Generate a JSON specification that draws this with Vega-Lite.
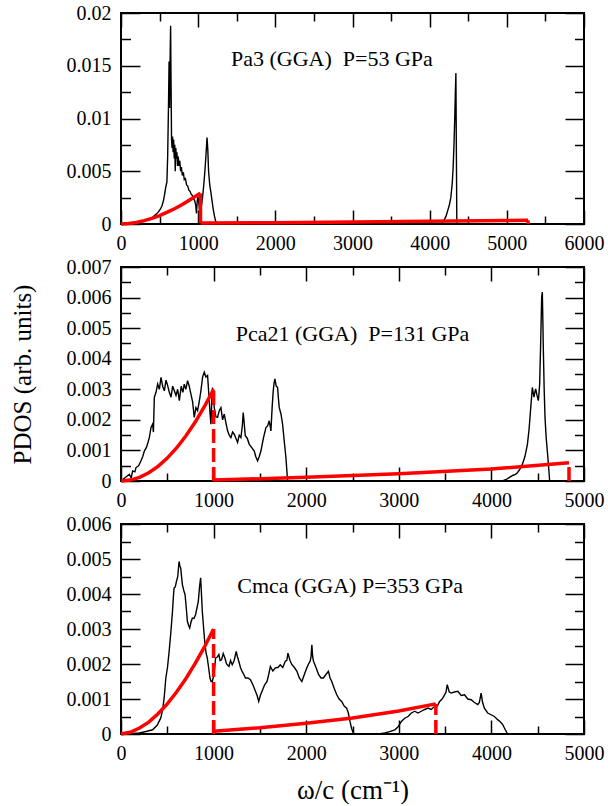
{
"$schema": "https://vega.github.io/schema/vega-lite/v6.json",
"autosize": {"type": "pad"},
"padding": {"left": 9, "top": 2, "right": 0, "bottom": 0},
"bounds": "flush",
"spacing": 43,
"config": {
  "font": "Liberation Serif",
  "view": {"stroke": "black", "strokeWidth": 2},
  "axis": {"domain": false, "grid": false, "tickColor": "black", "tickWidth": 1.5, "labelFont": "Liberation Serif", "labelFontSize": 20, "labelColor": "black", "titleFont": "Liberation Serif", "titleFontWeight": "normal", "titleColor": "black", "labelOverlap": false, "labelFlush": false, "labelBound": false},
  "axisX": {"labelPadding": 23},
  "axisY": {"labelPadding": 29},
  "text": {"font": "Liberation Serif"}
},
"datasets": {
  "pa3_pdos": [
    {"x":0,"y":0},{"x":100,"y":0.00003},{"x":200,"y":0.0001},{"x":260,"y":0.0002},{"x":300,"y":0.00025},{"x":340,"y":0.0004},{"x":380,"y":0.0005},{"x":420,"y":0.0007},{"x":450,"y":0.0009},{"x":480,"y":0.0011},{"x":510,"y":0.0014},{"x":530,"y":0.0017},{"x":550,"y":0.0022},{"x":565,"y":0.0028},{"x":580,"y":0.0035},{"x":595,"y":0.004},{"x":605,"y":0.0065},{"x":615,"y":0.011},{"x":623,"y":0.0154},{"x":630,"y":0.011},{"x":637,"y":0.016},{"x":643,"y":0.0188},{"x":648,"y":0.014},{"x":655,"y":0.008},{"x":662,"y":0.0072},{"x":668,"y":0.0083},{"x":675,"y":0.0068},{"x":682,"y":0.008},{"x":690,"y":0.0062},{"x":697,"y":0.0075},{"x":703,"y":0.005},{"x":710,"y":0.0072},{"x":718,"y":0.0062},{"x":725,"y":0.0068},{"x":733,"y":0.0055},{"x":742,"y":0.0064},{"x":752,"y":0.0055},{"x":762,"y":0.006},{"x":772,"y":0.005},{"x":782,"y":0.0054},{"x":795,"y":0.0046},{"x":808,"y":0.0049},{"x":820,"y":0.0042},{"x":835,"y":0.0043},{"x":850,"y":0.0037},{"x":865,"y":0.0036},{"x":880,"y":0.0032},{"x":895,"y":0.0031},{"x":910,"y":0.0028},{"x":925,"y":0.0027},{"x":940,"y":0.0024},{"x":955,"y":0.0022},{"x":968,"y":0.0018},{"x":978,"y":0.001},{"x":988,"y":0.0022},{"x":998,"y":0.0026},{"x":1008,"y":0.002},{"x":1018,"y":0.0013},{"x":1028,"y":0.0011},{"x":1040,"y":0.0016},{"x":1055,"y":0.0024},{"x":1070,"y":0.0035},{"x":1085,"y":0.0048},{"x":1100,"y":0.0064},{"x":1115,"y":0.0082},{"x":1125,"y":0.007},{"x":1135,"y":0.005},{"x":1150,"y":0.0037},{"x":1165,"y":0.003},{"x":1180,"y":0.0022},{"x":1195,"y":0.0014},{"x":1210,"y":0.0008},{"x":1225,"y":0.0003},{"x":1240,"y":0},{"x":4150,"y":0},{"x":4180,"y":0.0003},{"x":4210,"y":0.0007},{"x":4231,"y":0.0012},{"x":4255,"y":0.0018},{"x":4274,"y":0.0025},{"x":4292,"y":0.0038},{"x":4304,"y":0.0053},{"x":4315,"y":0.0075},{"x":4325,"y":0.01},{"x":4333,"y":0.0125},{"x":4340,"y":0.0143},{"x":4346,"y":0.007},{"x":4352,"y":0},{"x":4400,"y":0}
  ],
  "pa3_model": [
    {"seg":"a","x":0,"y":0},{"seg":"a","x":100,"y":0.00004},{"seg":"a","x":200,"y":0.00015},{"seg":"a","x":300,"y":0.00032},{"seg":"a","x":400,"y":0.00054},{"seg":"a","x":500,"y":0.0008},{"seg":"a","x":600,"y":0.00112},{"seg":"a","x":700,"y":0.00147},{"seg":"a","x":800,"y":0.00187},{"seg":"a","x":900,"y":0.00232},{"seg":"a","x":1000,"y":0.0028},{"seg":"a","x":1030,"y":0.0029},
    {"seg":"b","x":1030,"y":0.0029},{"seg":"b","x":1030,"y":0.0001},
    {"seg":"c","x":1030,"y":0.0001},{"seg":"c","x":2000,"y":0.00013},{"seg":"c","x":3000,"y":0.00018},{"seg":"c","x":4000,"y":0.00025},{"seg":"c","x":5000,"y":0.00032},{"seg":"c","x":5275,"y":0.00035},
    {"seg":"d","x":5275,"y":0.00035},{"seg":"d","x":5275,"y":0}
  ],
  "pca21_pdos": [
    {"x":0,"y":0},{"x":40,"y":0.0001},{"x":90,"y":0.00022},{"x":110,"y":0.0001},{"x":126,"y":0.00033},{"x":150,"y":0.0003},{"x":162,"y":0.00044},{"x":190,"y":0.0005},{"x":216,"y":0.00066},{"x":235,"y":0.0008},{"x":252,"y":0.00098},{"x":275,"y":0.0011},{"x":295,"y":0.0013},{"x":306,"y":0.00142},{"x":324,"y":0.00175},{"x":342,"y":0.00186},{"x":350,"y":0.0016},{"x":360,"y":0.00274},{"x":378,"y":0.0029},{"x":396,"y":0.00317},{"x":414,"y":0.003},{"x":432,"y":0.00339},{"x":450,"y":0.0031},{"x":468,"y":0.00295},{"x":486,"y":0.0033},{"x":504,"y":0.00312},{"x":522,"y":0.0029},{"x":540,"y":0.00274},{"x":558,"y":0.0031},{"x":576,"y":0.00295},{"x":594,"y":0.0028},{"x":612,"y":0.003},{"x":630,"y":0.00263},{"x":650,"y":0.0031},{"x":668,"y":0.0029},{"x":683,"y":0.00317},{"x":700,"y":0.003},{"x":719,"y":0.00328},{"x":737,"y":0.0031},{"x":755,"y":0.00284},{"x":773,"y":0.0026},{"x":791,"y":0.00208},{"x":809,"y":0.0024},{"x":827,"y":0.0023},{"x":845,"y":0.0026},{"x":863,"y":0.00295},{"x":881,"y":0.0034},{"x":899,"y":0.00356},{"x":917,"y":0.0034},{"x":935,"y":0.00345},{"x":945,"y":0.003},{"x":953,"y":0.00263},{"x":962,"y":0.0022},{"x":971,"y":0.00186},{"x":980,"y":0.0026},{"x":989,"y":0.00306},{"x":998,"y":0.0028},{"x":1007,"y":0.0024},{"x":1025,"y":0.0021},{"x":1043,"y":0.00208},{"x":1061,"y":0.0023},{"x":1079,"y":0.0024},{"x":1097,"y":0.002},{"x":1115,"y":0.00219},{"x":1133,"y":0.0019},{"x":1151,"y":0.00164},{"x":1169,"y":0.0015},{"x":1187,"y":0.00142},{"x":1205,"y":0.0016},{"x":1223,"y":0.00153},{"x":1241,"y":0.0014},{"x":1259,"y":0.00126},{"x":1277,"y":0.0015},{"x":1295,"y":0.00142},{"x":1310,"y":0.0018},{"x":1320,"y":0.00224},{"x":1330,"y":0.0019},{"x":1342,"y":0.00148},{"x":1363,"y":0.0014},{"x":1385,"y":0.0012},{"x":1410,"y":0.0011},{"x":1439,"y":0.00098},{"x":1455,"y":0.0008},{"x":1475,"y":0.00066},{"x":1493,"y":0.0008},{"x":1511,"y":0.00098},{"x":1538,"y":0.0014},{"x":1565,"y":0.00175},{"x":1583,"y":0.0018},{"x":1601,"y":0.00197},{"x":1610,"y":0.0018},{"x":1619,"y":0.00164},{"x":1632,"y":0.0024},{"x":1644,"y":0.00295},{"x":1653,"y":0.0032},{"x":1662,"y":0.00334},{"x":1676,"y":0.0031},{"x":1691,"y":0.00306},{"x":1700,"y":0.0027},{"x":1709,"y":0.0024},{"x":1727,"y":0.0022},{"x":1745,"y":0.00186},{"x":1763,"y":0.0013},{"x":1781,"y":0.00077},{"x":1799,"y":0},{"x":4119,"y":0},{"x":4160,"y":0.00005},{"x":4191,"y":0.00011},{"x":4230,"y":0.00018},{"x":4260,"y":0.00022},{"x":4281,"y":0.00027},{"x":4310,"y":0.0004},{"x":4335,"y":0.00055},{"x":4362,"y":0.0008},{"x":4389,"y":0.0012},{"x":4407,"y":0.0017},{"x":4425,"y":0.0024},{"x":4442,"y":0.00306},{"x":4451,"y":0.0029},{"x":4460,"y":0.00274},{"x":4469,"y":0.0029},{"x":4478,"y":0.00301},{"x":4493,"y":0.0028},{"x":4507,"y":0.00263},{"x":4515,"y":0.0029},{"x":4521,"y":0.00317},{"x":4532,"y":0.0045},{"x":4543,"y":0.00602},{"x":4550,"y":0.00618},{"x":4556,"y":0.0052},{"x":4561,"y":0.00427},{"x":4570,"y":0.003},{"x":4579,"y":0.00208},{"x":4592,"y":0.0014},{"x":4604,"y":0.00098},{"x":4617,"y":0.0005},{"x":4629,"y":0}
  ],
  "pca21_model": [
    {"seg":"a","x":0,"y":0},{"seg":"a","x":100,"y":0.00003},{"seg":"a","x":200,"y":0.00012},{"seg":"a","x":300,"y":0.00027},{"seg":"a","x":400,"y":0.00048},{"seg":"a","x":500,"y":0.00075},{"seg":"a","x":600,"y":0.00108},{"seg":"a","x":700,"y":0.00147},{"seg":"a","x":800,"y":0.00192},{"seg":"a","x":900,"y":0.00243},{"seg":"a","x":1000,"y":0.003},
    {"seg":"c","x":1000,"y":0.00003},{"seg":"c","x":2000,"y":0.00012},{"seg":"c","x":3000,"y":0.00024},{"seg":"c","x":4000,"y":0.00039},{"seg":"c","x":4838,"y":0.0006}
  ],
  "pca21_drops": [
    {"x":1000,"y":0,"y2":0.003},{"x":4838,"y":0,"y2":0.0006}
  ],
  "cmca_pdos": [
    {"x":0,"y":0},{"x":100,"y":0.00001},{"x":197,"y":0.00003},{"x":270,"y":0.00007},{"x":341,"y":0.00012},{"x":390,"y":0.00025},{"x":430,"y":0.00046},{"x":450,"y":0.0007},{"x":466,"y":0.00103},{"x":475,"y":0.0013},{"x":484,"y":0.0016},{"x":502,"y":0.0019},{"x":520,"y":0.00236},{"x":538,"y":0.0029},{"x":556,"y":0.0035},{"x":565,"y":0.0039},{"x":573,"y":0.00417},{"x":586,"y":0.0042},{"x":599,"y":0.00436},{"x":613,"y":0.0045},{"x":627,"y":0.00493},{"x":636,"y":0.0048},{"x":645,"y":0.00474},{"x":654,"y":0.0045},{"x":663,"y":0.00427},{"x":678,"y":0.0041},{"x":692,"y":0.00398},{"x":705,"y":0.0036},{"x":717,"y":0.00322},{"x":730,"y":0.0031},{"x":742,"y":0.00303},{"x":756,"y":0.0032},{"x":771,"y":0.00331},{"x":788,"y":0.0033},{"x":806,"y":0.00341},{"x":820,"y":0.0036},{"x":835,"y":0.00379},{"x":848,"y":0.0042},{"x":860,"y":0.00446},{"x":869,"y":0.004},{"x":878,"y":0.0035},{"x":893,"y":0.003},{"x":907,"y":0.00255},{"x":920,"y":0.0023},{"x":932,"y":0.00217},{"x":946,"y":0.0019},{"x":961,"y":0.0016},{"x":973,"y":0.0015},{"x":986,"y":0.0015},{"x":995,"y":0.0016},{"x":1004,"y":0.0017},{"x":1012,"y":0.0019},{"x":1021,"y":0.00217},{"x":1040,"y":0.0022},{"x":1057,"y":0.00227},{"x":1070,"y":0.0021},{"x":1086,"y":0.00212},{"x":1104,"y":0.0023},{"x":1122,"y":0.00217},{"x":1140,"y":0.002},{"x":1165,"y":0.00193},{"x":1183,"y":0.0021},{"x":1201,"y":0.00198},{"x":1222,"y":0.0021},{"x":1244,"y":0.00236},{"x":1258,"y":0.0022},{"x":1272,"y":0.00208},{"x":1290,"y":0.0019},{"x":1308,"y":0.00179},{"x":1326,"y":0.0017},{"x":1344,"y":0.0016},{"x":1370,"y":0.0016},{"x":1398,"y":0.00155},{"x":1425,"y":0.0014},{"x":1452,"y":0.00122},{"x":1470,"y":0.0011},{"x":1487,"y":0.00093},{"x":1505,"y":0.0011},{"x":1523,"y":0.00122},{"x":1550,"y":0.0014},{"x":1577,"y":0.0015},{"x":1595,"y":0.0017},{"x":1613,"y":0.00193},{"x":1640,"y":0.0018},{"x":1667,"y":0.00189},{"x":1694,"y":0.0019},{"x":1720,"y":0.00198},{"x":1747,"y":0.0019},{"x":1774,"y":0.00208},{"x":1790,"y":0.0021},{"x":1803,"y":0.00231},{"x":1825,"y":0.0021},{"x":1846,"y":0.00198},{"x":1873,"y":0.0019},{"x":1900,"y":0.00179},{"x":1926,"y":0.0016},{"x":1953,"y":0.0015},{"x":1980,"y":0.0017},{"x":2007,"y":0.00189},{"x":2025,"y":0.002},{"x":2043,"y":0.00208},{"x":2052,"y":0.0022},{"x":2061,"y":0.00255},{"x":2070,"y":0.0022},{"x":2079,"y":0.00208},{"x":2106,"y":0.0019},{"x":2133,"y":0.0017},{"x":2160,"y":0.0016},{"x":2186,"y":0.0016},{"x":2213,"y":0.0017},{"x":2240,"y":0.00179},{"x":2258,"y":0.0016},{"x":2276,"y":0.0015},{"x":2303,"y":0.0013},{"x":2330,"y":0.00112},{"x":2356,"y":0.001},{"x":2383,"y":0.00093},{"x":2410,"y":0.0008},{"x":2437,"y":0.00074},{"x":2455,"y":0.0006},{"x":2473,"y":0.00036},{"x":2491,"y":0.00015},{"x":2509,"y":0.00003},{"x":2527,"y":0},{"x":2742,"y":0},{"x":2800,"y":0.00001},{"x":2849,"y":0.00003},{"x":2900,"y":0.00007},{"x":2957,"y":0.00012},{"x":2990,"y":0.0002},{"x":3028,"y":0.00036},{"x":3064,"y":0.00045},{"x":3100,"y":0.0005},{"x":3136,"y":0.0006},{"x":3172,"y":0.00065},{"x":3207,"y":0.0006},{"x":3243,"y":0.00065},{"x":3280,"y":0.0007},{"x":3315,"y":0.00074},{"x":3350,"y":0.0007},{"x":3387,"y":0.00079},{"x":3415,"y":0.0008},{"x":3441,"y":0.00093},{"x":3468,"y":0.001},{"x":3494,"y":0.00112},{"x":3510,"y":0.0012},{"x":3523,"y":0.00141},{"x":3545,"y":0.0012},{"x":3566,"y":0.00117},{"x":3600,"y":0.0012},{"x":3638,"y":0.00122},{"x":3674,"y":0.0011},{"x":3710,"y":0.00112},{"x":3745,"y":0.001},{"x":3781,"y":0.00098},{"x":3817,"y":0.0009},{"x":3853,"y":0.00084},{"x":3870,"y":0.0009},{"x":3889,"y":0.00117},{"x":3905,"y":0.0009},{"x":3924,"y":0.00074},{"x":3960,"y":0.0006},{"x":3996,"y":0.00055},{"x":4032,"y":0.0005},{"x":4068,"y":0.00041},{"x":4095,"y":0.00035},{"x":4122,"y":0.00027},{"x":4150,"y":0.00012},{"x":4175,"y":0}
  ],
  "cmca_model": [
    {"seg":"a","x":0,"y":0},{"seg":"a","x":100,"y":0.00005},{"seg":"a","x":200,"y":0.00017},{"seg":"a","x":300,"y":0.00034},{"seg":"a","x":400,"y":0.00058},{"seg":"a","x":500,"y":0.00086},{"seg":"a","x":600,"y":0.0012},{"seg":"a","x":700,"y":0.00158},{"seg":"a","x":800,"y":0.00201},{"seg":"a","x":900,"y":0.00248},{"seg":"a","x":1000,"y":0.003},
    {"seg":"c","x":1000,"y":0.00008},{"seg":"c","x":1500,"y":0.00018},{"seg":"c","x":2000,"y":0.00031},{"seg":"c","x":2500,"y":0.00046},{"seg":"c","x":3000,"y":0.00066},{"seg":"c","x":3400,"y":0.00086}
  ],
  "cmca_drops": [
    {"x":1000,"y":0,"y2":0.003},{"x":3400,"y":0,"y2":0.00086}
  ]
},
"vconcat": [
  {
    "width": 463, "height": 211,
    "resolve": {"axis": {"x": "independent", "y": "independent"}},
    "layer": [
      {"data": {"name": "pa3_pdos"}, "mark": {"type": "line", "color": "black", "strokeWidth": 1.4},
       "encoding": {
         "x": {"field": "x", "type": "quantitative", "scale": {"domain": [0, 6000], "nice": false},
               "axis": {"orient": "bottom", "title": null, "format": "d", "values": [0,500,1000,1500,2000,2500,3000,3500,4000,4500,5000,5500,6000],
                        "labelExpr": "datum.value % 1000 === 0 ? datum.label : ''",
                        "tickSize": {"condition": {"test": "datum.value % 1000 === 0", "value": -14}, "value": -8}}},
         "y": {"field": "y", "type": "quantitative", "scale": {"domain": [0, 0.02], "nice": false},
               "axis": {"orient": "left", "title": null, "format": "~g", "values": [0,0.0025,0.005,0.0075,0.01,0.0125,0.015,0.0175,0.02],
                        "labelExpr": "round(datum.value*10000) % 50 === 0 ? datum.label : ''",
                        "tickSize": {"condition": {"test": "round(datum.value*10000) % 50 === 0", "value": -19}, "value": -9.5}}}
       }},
      {"data": {"name": "pa3_model"}, "mark": {"type": "line", "color": "red", "strokeWidth": 3.5},
       "encoding": {
         "x": {"field": "x", "type": "quantitative", "scale": {"domain": [0, 6000], "nice": false},
               "axis": {"orient": "top", "title": null, "labels": false, "values": [0,500,1000,1500,2000,2500,3000,3500,4000,4500,5000,5500,6000],
                        "tickSize": {"condition": {"test": "datum.value % 1000 === 0", "value": -14}, "value": -8}}},
         "y": {"field": "y", "type": "quantitative", "scale": {"domain": [0, 0.02], "nice": false},
               "axis": {"orient": "right", "title": null, "labels": false, "values": [0,0.0025,0.005,0.0075,0.01,0.0125,0.015,0.0175,0.02],
                        "tickSize": {"condition": {"test": "round(datum.value*10000) % 50 === 0", "value": -19}, "value": -9.5}}},
         "detail": {"field": "seg"}
       }},
      {"data": {"values": [{"x": 1425, "y": 0.015, "t": "Pa3 (GGA) \u00a0P=53 GPa"}]},
       "mark": {"type": "text", "align": "left", "baseline": "alphabetic", "fontSize": 22, "color": "black", "font": "Liberation Serif"},
       "encoding": {
         "x": {"field": "x", "type": "quantitative", "scale": {"domain": [0, 6000], "nice": false}, "axis": null},
         "y": {"field": "y", "type": "quantitative", "scale": {"domain": [0, 0.02], "nice": false}, "axis": null},
         "text": {"field": "t"}
       }}
    ]
  },
  {
    "width": 463, "height": 214,
    "resolve": {"axis": {"x": "independent", "y": "independent"}},
    "layer": [
      {"data": {"name": "pca21_pdos"}, "mark": {"type": "line", "color": "black", "strokeWidth": 1.4},
       "encoding": {
         "x": {"field": "x", "type": "quantitative", "scale": {"domain": [0, 5000], "nice": false},
               "axis": {"orient": "bottom", "title": null, "format": "d", "values": [0,500,1000,1500,2000,2500,3000,3500,4000,4500,5000],
                        "labelExpr": "datum.value % 1000 === 0 ? datum.label : ''",
                        "tickSize": {"condition": {"test": "datum.value % 1000 === 0", "value": -14}, "value": -8}}},
         "y": {"field": "y", "type": "quantitative", "scale": {"domain": [0, 0.007], "nice": false},
               "axis": {"orient": "left", "title": "PDOS (arb. units)", "titleFontSize": 25, "titlePadding": 31, "format": "~g",
                        "values": [0,0.0005,0.001,0.0015,0.002,0.0025,0.003,0.0035,0.004,0.0045,0.005,0.0055,0.006,0.0065,0.007],
                        "labelExpr": "round(datum.value*10000) % 10 === 0 ? datum.label : ''",
                        "tickSize": {"condition": {"test": "round(datum.value*10000) % 10 === 0", "value": -19}, "value": -9.5}}}
       }},
      {"data": {"name": "pca21_model"}, "mark": {"type": "line", "color": "red", "strokeWidth": 3.5},
       "encoding": {
         "x": {"field": "x", "type": "quantitative", "scale": {"domain": [0, 5000], "nice": false},
               "axis": {"orient": "top", "title": null, "labels": false, "values": [0,500,1000,1500,2000,2500,3000,3500,4000,4500,5000],
                        "tickSize": {"condition": {"test": "datum.value % 1000 === 0", "value": -14}, "value": -8}}},
         "y": {"field": "y", "type": "quantitative", "scale": {"domain": [0, 0.007], "nice": false},
               "axis": {"orient": "right", "title": null, "labels": false,
                        "values": [0,0.0005,0.001,0.0015,0.002,0.0025,0.003,0.0035,0.004,0.0045,0.005,0.0055,0.006,0.0065,0.007],
                        "tickSize": {"condition": {"test": "round(datum.value*10000) % 10 === 0", "value": -19}, "value": -9.5}}},
         "detail": {"field": "seg"}
       }},
      {"data": {"name": "pca21_drops"}, "mark": {"type": "rule", "color": "red", "strokeWidth": 3.5, "strokeDash": [14, 5]},
       "encoding": {
         "x": {"field": "x", "type": "quantitative", "scale": {"domain": [0, 5000], "nice": false}, "axis": null},
         "y": {"field": "y", "type": "quantitative", "scale": {"domain": [0, 0.007], "nice": false}, "axis": null},
         "y2": {"field": "y2"}
       }},
      {"data": {"values": [{"x": 1239, "y": 0.00458, "t": "Pca21 (GGA) \u00a0P=131 GPa"}]},
       "mark": {"type": "text", "align": "left", "baseline": "alphabetic", "fontSize": 22, "color": "black", "font": "Liberation Serif"},
       "encoding": {
         "x": {"field": "x", "type": "quantitative", "scale": {"domain": [0, 5000], "nice": false}, "axis": null},
         "y": {"field": "y", "type": "quantitative", "scale": {"domain": [0, 0.007], "nice": false}, "axis": null},
         "text": {"field": "t"}
       }}
    ]
  },
  {
    "width": 463, "height": 210,
    "resolve": {"axis": {"x": "independent", "y": "independent"}},
    "layer": [
      {"data": {"name": "cmca_pdos"}, "mark": {"type": "line", "color": "black", "strokeWidth": 1.4},
       "encoding": {
         "x": {"field": "x", "type": "quantitative", "scale": {"domain": [0, 5000], "nice": false},
               "axis": {"orient": "bottom", "title": "ω/c (cm⁻¹)", "titleFontSize": 27, "titlePadding": 8, "format": "d", "values": [0,500,1000,1500,2000,2500,3000,3500,4000,4500,5000],
                        "labelExpr": "datum.value % 1000 === 0 ? datum.label : ''",
                        "tickSize": {"condition": {"test": "datum.value % 1000 === 0", "value": -14}, "value": -8}}},
         "y": {"field": "y", "type": "quantitative", "scale": {"domain": [0, 0.006], "nice": false},
               "axis": {"orient": "left", "title": null, "format": "~g",
                        "values": [0,0.0005,0.001,0.0015,0.002,0.0025,0.003,0.0035,0.004,0.0045,0.005,0.0055,0.006],
                        "labelExpr": "round(datum.value*10000) % 10 === 0 ? datum.label : ''",
                        "tickSize": {"condition": {"test": "round(datum.value*10000) % 10 === 0", "value": -19}, "value": -9.5}}}
       }},
      {"data": {"name": "cmca_model"}, "mark": {"type": "line", "color": "red", "strokeWidth": 3.5},
       "encoding": {
         "x": {"field": "x", "type": "quantitative", "scale": {"domain": [0, 5000], "nice": false},
               "axis": {"orient": "top", "title": null, "labels": false, "values": [0,500,1000,1500,2000,2500,3000,3500,4000,4500,5000],
                        "tickSize": {"condition": {"test": "datum.value % 1000 === 0", "value": -14}, "value": -8}}},
         "y": {"field": "y", "type": "quantitative", "scale": {"domain": [0, 0.006], "nice": false},
               "axis": {"orient": "right", "title": null, "labels": false,
                        "values": [0,0.0005,0.001,0.0015,0.002,0.0025,0.003,0.0035,0.004,0.0045,0.005,0.0055,0.006],
                        "tickSize": {"condition": {"test": "round(datum.value*10000) % 10 === 0", "value": -19}, "value": -9.5}}},
         "detail": {"field": "seg"}
       }},
      {"data": {"name": "cmca_drops"}, "mark": {"type": "rule", "color": "red", "strokeWidth": 3.5, "strokeDash": [14, 5]},
       "encoding": {
         "x": {"field": "x", "type": "quantitative", "scale": {"domain": [0, 5000], "nice": false}, "axis": null},
         "y": {"field": "y", "type": "quantitative", "scale": {"domain": [0, 0.006], "nice": false}, "axis": null},
         "y2": {"field": "y2"}
       }},
      {"data": {"values": [{"x": 1256, "y": 0.00404, "t": "Cmca (GGA) P=353 GPa"}]},
       "mark": {"type": "text", "align": "left", "baseline": "alphabetic", "fontSize": 22, "color": "black", "font": "Liberation Serif"},
       "encoding": {
         "x": {"field": "x", "type": "quantitative", "scale": {"domain": [0, 5000], "nice": false}, "axis": null},
         "y": {"field": "y", "type": "quantitative", "scale": {"domain": [0, 0.006], "nice": false}, "axis": null},
         "text": {"field": "t"}
       }}
    ]
  }
]
}
